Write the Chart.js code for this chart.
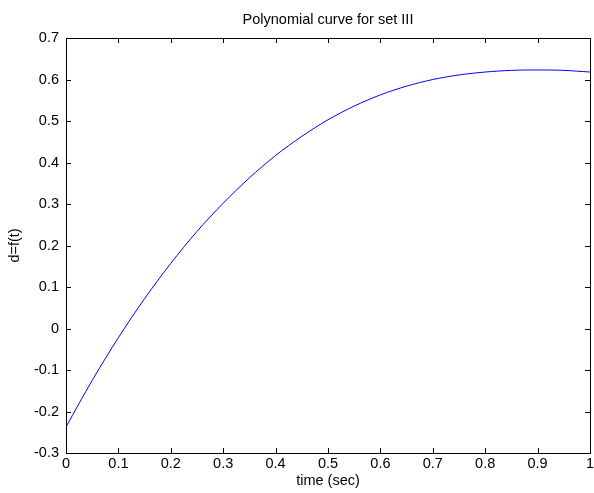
<!DOCTYPE html>
<html>
<head>
<meta charset="utf-8">
<script src="https://cdn.jsdelivr.net/npm/chart.js@4/dist/chart.umd.min.js"></script>
<style>
  body { margin: 0; background: #fff; }
  #plot { display: block; }
</style>
</head>
<body>
<canvas id="plot" width="594" height="493"></canvas>
<script>
// values
const timeSec = [0, 0.05, 0.1, 0.15, 0.2, 0.25, 0.3, 0.35, 0.4, 0.45, 0.5,
                 0.55, 0.6, 0.65, 0.7, 0.75, 0.8, 0.85, 0.9, 0.95, 1];
const dValues = [-0.237, -0.125, -0.022, 0.072, 0.157, 0.234, 0.302, 0.363, 0.417, 0.463, 0.503,
                 0.536, 0.563, 0.584, 0.6, 0.611, 0.618, 0.622, 0.623, 0.622, 0.618];
const xTicks = [0, 0.1, 0.2, 0.3, 0.4, 0.5, 0.6, 0.7, 0.8, 0.9, 1];
const yTicks = [-0.3, -0.2, -0.1, 0, 0.1, 0.2, 0.3, 0.4, 0.5, 0.6, 0.7];

const fontFam = "'Liberation Sans', Arial, sans-serif";
const fsize = 14.5;
const fmt = (v) => String(Math.round(v * 10) / 10);

// matlab style box with ticks pointing inwards on all four sides
const boxTicks = {
  id: "boxTicks",
  afterDraw(chart) {
    const { ctx, chartArea: a, scales } = chart;
    const len = 5;
    ctx.save();
    ctx.strokeStyle = "#000";
    ctx.lineWidth = 1;
    ctx.beginPath();
    xTicks.forEach((v) => {
      const px = Math.round(scales.x.getPixelForValue(v)) + 0.5;
      ctx.moveTo(px, a.bottom);
      ctx.lineTo(px, a.bottom - len);
      ctx.moveTo(px, a.top);
      ctx.lineTo(px, a.top + len);
    });
    yTicks.forEach((v) => {
      const py = Math.round(scales.y.getPixelForValue(v)) + 0.5;
      ctx.moveTo(a.left, py);
      ctx.lineTo(a.left + len, py);
      ctx.moveTo(a.right, py);
      ctx.lineTo(a.right - len, py);
    });
    ctx.stroke();
    ctx.strokeRect(Math.round(a.left) + 0.5, Math.round(a.top) + 0.5,
      Math.round(a.right - a.left), Math.round(a.bottom - a.top));
    ctx.restore();
  },
};

const points = timeSec.map((t, i) => ({ x: t, y: dValues[i] }));

new Chart(document.getElementById("plot").getContext("2d"), {
  type: "line",
  data: {
    datasets: [
      {
        data: points,
        borderColor: "#0000ff",
        borderWidth: 1,
        pointRadius: 0,
        fill: false,
        tension: 0.3,
      },
    ],
  },
  options: {
    responsive: false,
    animation: false,
    layout: { padding: { left: 0, right: 4, top: 0, bottom: 0 } },
    scales: {
      x: {
        type: "linear",
        min: 0,
        max: 1,
        afterFit: (s) => { s.height = 40; s.paddingLeft = 0; s.paddingRight = 0; },
        afterBuildTicks: (s) => { s.ticks = xTicks.map((v) => ({ value: v })); },
        grid: { display: false, drawTicks: false },
        border: { display: false },
        ticks: { color: "#000", padding: 2, maxRotation: 0, callback: fmt,
                 font: { family: fontFam, size: fsize } },
        title: { display: true, text: "time (sec)", color: "#000", padding: { top: 0, bottom: 3.3 },
                 font: { family: fontFam, size: fsize } },
      },
      y: {
        min: -0.3,
        max: 0.7,
        afterFit: (s) => { s.width = 66; s.paddingTop = 0; s.paddingBottom = 0; },
        afterBuildTicks: (s) => { s.ticks = yTicks.map((v) => ({ value: v })); },
        grid: { display: false, drawTicks: false },
        border: { display: false },
        ticks: { color: "#000", padding: 7, callback: fmt, font: { family: fontFam, size: fsize } },
        title: { display: true, text: "d=f(t)", color: "#000", padding: { top: 6.3, bottom: 0 },
                 font: { family: fontFam, size: fsize } },
      },
    },
    plugins: {
      legend: { display: false },
      tooltip: { enabled: false },
      title: {
        display: true,
        fullSize: false,
        text: "Polynomial curve for set III",
        color: "#000",
        font: { family: fontFam, size: fsize, weight: "normal" },
        padding: { top: 11.3, bottom: 9.3 },
      },
    },
  },
  plugins: [boxTicks],
});
</script>
</body>
</html>
